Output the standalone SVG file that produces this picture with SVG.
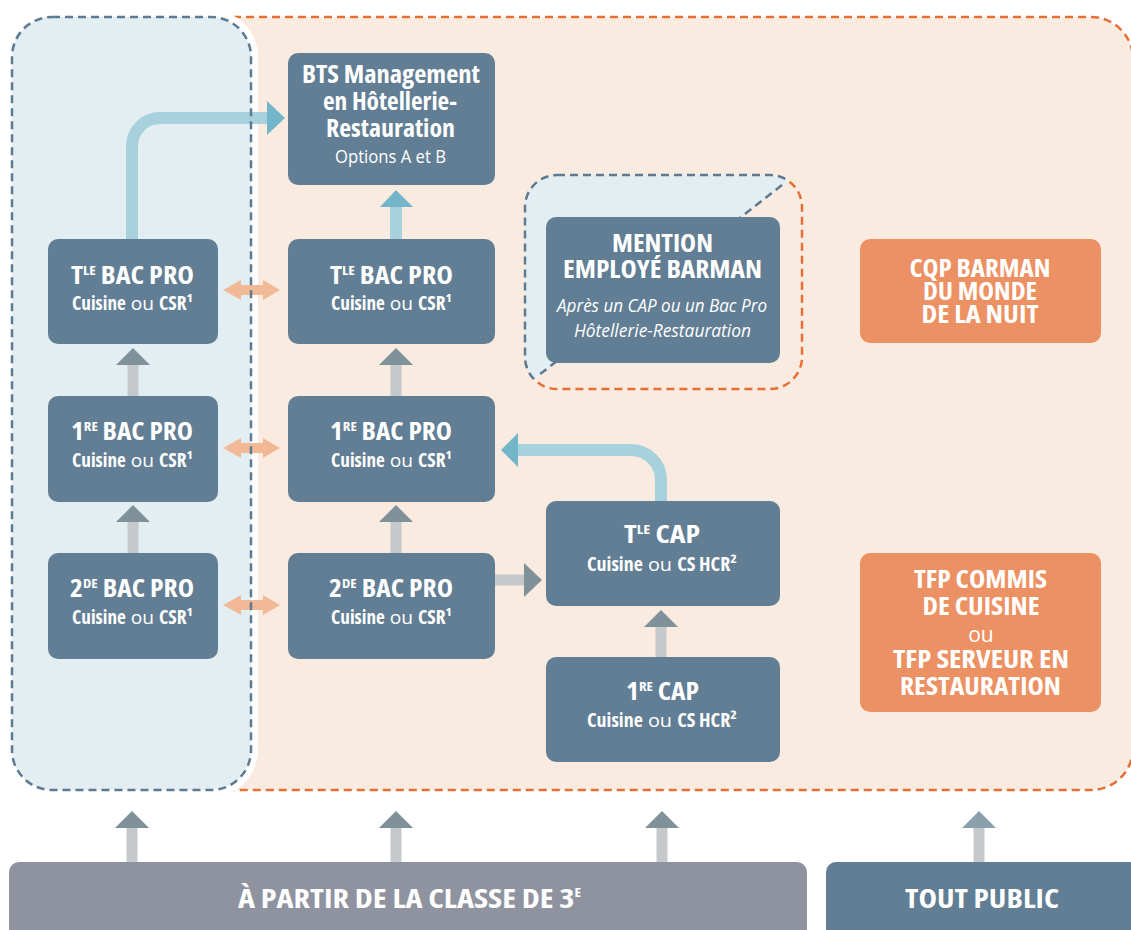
<svg xmlns="http://www.w3.org/2000/svg" width="1131" height="930" viewBox="0 0 1131 930">
<style>
text{font-family:"Open Sans","Liberation Sans",sans-serif;font-stretch:75%;fill:#ffffff;text-anchor:middle}
.t{font-size:24px;font-weight:700}
.s{font-size:19px;font-weight:400;font-stretch:100%}
.b{font-weight:700;font-stretch:75%}
.sup{font-size:13px;font-weight:700}
.it{font-size:17.5px;font-style:italic;font-weight:400;font-stretch:100%}
.op{font-size:17.5px;font-weight:400;font-stretch:100%}
.ou{font-size:21px;font-weight:400;font-stretch:100%}
.big{font-size:27.5px;font-weight:700}
.node{fill:#617e94}
.onode{fill:#ec9163}
.gshaft{fill:#c5c9cc}
.ghead{fill:#7f9299}
.bshaft{fill:none;stroke:#a8d1de;stroke-width:12}
.bshaftr{fill:#a8d1de}
.bhead{fill:#74b5c9}
.dbl{fill:#f2b996}
.odash{fill:none;stroke:#e66f35;stroke-width:2.5;stroke-dasharray:8 5}
.bdash{fill:none;stroke:#5d7a90;stroke-width:2.5;stroke-dasharray:8 5}
</style>
<defs>
<clipPath id="cu"><polygon points="490,140 840,140 840,140.3 490,414"/></clipPath>
<clipPath id="cl"><polygon points="490,414 840,140.3 840,420 490,420"/></clipPath>
</defs>
<g id="regions">
<rect x="100" y="17" width="1033" height="773" rx="42" fill="#faebe0"/>
<rect class="odash" x="100" y="17" width="1033" height="773" rx="42"/>
<rect x="5" y="10" width="253" height="787" rx="47" fill="#ffffff"/>
<rect x="12" y="17" width="239" height="773" rx="40" fill="#e3eef3"/>
<g clip-path="url(#cu)"><rect x="525" y="175" width="277" height="214" rx="32" fill="#e3eef3"/><rect class="bdash" x="525" y="175" width="277" height="214" rx="32"/></g>
<g clip-path="url(#cl)"><rect class="odash" x="525" y="175" width="277" height="214" rx="32"/></g>
<line class="bdash" x1="782" y1="185" x2="539" y2="375"/>
</g>
<g id="connectors">
<path class="bshaft" d="M132,239 V146 A28,28 0 0 1 160,118 H268"/>
<polygon class="bhead" points="267,101 285,118 267,135"/>
<rect class="bshaftr" x="390" y="206" width="12" height="34"/>
<polygon class="bhead" points="380,207 396,190 413,207"/>
<path class="bshaft" d="M661,501 V480 A30,30 0 0 0 631,450 H516"/>
<polygon class="bhead" points="518,433 501,450 518,467"/>
<rect class="gshaft" x="127.5" y="364" width="11" height="33"/>
<polygon class="ghead" points="116,365 133,348 150,365"/>
<rect class="gshaft" x="127.5" y="521" width="11" height="33"/>
<polygon class="ghead" points="116,522 133,505 150,522"/>
<rect class="gshaft" x="390.5" y="364" width="11" height="33"/>
<polygon class="ghead" points="379,365 396,348 413,365"/>
<rect class="gshaft" x="390.5" y="521" width="11" height="33"/>
<polygon class="ghead" points="379,522 396,505 413,522"/>
<rect class="gshaft" x="655.5" y="626" width="11" height="32"/>
<polygon class="ghead" points="644,627 661,610 678,627"/>
<rect class="gshaft" x="494" y="574.5" width="31" height="11"/>
<polygon class="ghead" points="524,563 542,580 524,597"/>
<polygon class="dbl" points="223,290 241,280 241,285 263,285 263,280 280,290 263,300 263,295 241,295 241,300"/>
<polygon class="dbl" points="223,448 241,438 241,443 263,443 263,438 280,448 263,458 263,453 241,453 241,458"/>
<polygon class="dbl" points="223,605 241,595 241,600 263,600 263,595 280,605 263,615 263,610 241,610 241,615"/>
<rect class="gshaft" x="126.5" y="827" width="11" height="36"/>
<polygon class="ghead" points="115,828 132,811 149,828"/>
<rect class="gshaft" x="390.5" y="827" width="11" height="36"/>
<polygon class="ghead" points="379,828 396,811 413,828"/>
<rect class="gshaft" x="656.5" y="827" width="11" height="36"/>
<polygon class="ghead" points="645,828 662,811 679,828"/>
<rect class="gshaft" x="973.5" y="827" width="11" height="36"/>
<polygon points="962,828 979,811 996,828" fill="#8aa0ad"/>
</g>
<rect class="bdash" x="12" y="17" width="239" height="773" rx="40"/>
<g id="bts">
<rect class="node" x="288" y="53" width="207" height="132" rx="10"/>
<text class="t" x="391" y="83" textLength="178" lengthAdjust="spacingAndGlyphs">BTS Management</text>
<text class="t" x="390" y="110" textLength="134" lengthAdjust="spacingAndGlyphs">en Hôtellerie-</text>
<text class="t" x="390.5" y="137" textLength="129" lengthAdjust="spacingAndGlyphs">Restauration</text>
<text class="op" x="390.5" y="163" textLength="111" lengthAdjust="spacingAndGlyphs">Options A et B</text>
</g>
<g id="tbac-l">
<rect class="node" x="48" y="239" width="170" height="105" rx="10"/>
<text class="t" x="132.5" y="284" textLength="123" lengthAdjust="spacingAndGlyphs">T<tspan class="sup" dy="-9">LE</tspan><tspan dy="9"> BAC PRO</tspan></text>
<text class="s" x="132.5" y="310" textLength="121" lengthAdjust="spacingAndGlyphs"><tspan class="b">Cuisine</tspan> ou <tspan class="b">CSR¹</tspan></text>
</g>
<g id="tbac-r">
<rect class="node" x="288" y="239" width="207" height="105" rx="10"/>
<text class="t" x="391.5" y="284" textLength="123" lengthAdjust="spacingAndGlyphs">T<tspan class="sup" dy="-9">LE</tspan><tspan dy="9"> BAC PRO</tspan></text>
<text class="s" x="391.5" y="310" textLength="121" lengthAdjust="spacingAndGlyphs"><tspan class="b">Cuisine</tspan> ou <tspan class="b">CSR¹</tspan></text>
</g>
<g id="1bac-l">
<rect class="node" x="48" y="396" width="170" height="106" rx="10"/>
<text class="t" x="132" y="440" textLength="122" lengthAdjust="spacingAndGlyphs">1<tspan class="sup" dy="-9">RE</tspan><tspan dy="9"> BAC PRO</tspan></text>
<text class="s" x="132.5" y="467" textLength="121" lengthAdjust="spacingAndGlyphs"><tspan class="b">Cuisine</tspan> ou <tspan class="b">CSR¹</tspan></text>
</g>
<g id="1bac-r">
<rect class="node" x="288" y="396" width="207" height="106" rx="10"/>
<text class="t" x="391" y="440" textLength="122" lengthAdjust="spacingAndGlyphs">1<tspan class="sup" dy="-9">RE</tspan><tspan dy="9"> BAC PRO</tspan></text>
<text class="s" x="391.5" y="467" textLength="121" lengthAdjust="spacingAndGlyphs"><tspan class="b">Cuisine</tspan> ou <tspan class="b">CSR¹</tspan></text>
</g>
<g id="2bac-l">
<rect class="node" x="48" y="553" width="170" height="106" rx="10"/>
<text class="t" x="132" y="597" textLength="124" lengthAdjust="spacingAndGlyphs">2<tspan class="sup" dy="-9">DE</tspan><tspan dy="9"> BAC PRO</tspan></text>
<text class="s" x="132.5" y="624" textLength="121" lengthAdjust="spacingAndGlyphs"><tspan class="b">Cuisine</tspan> ou <tspan class="b">CSR¹</tspan></text>
</g>
<g id="2bac-r">
<rect class="node" x="288" y="553" width="207" height="106" rx="10"/>
<text class="t" x="391" y="597" textLength="124" lengthAdjust="spacingAndGlyphs">2<tspan class="sup" dy="-9">DE</tspan><tspan dy="9"> BAC PRO</tspan></text>
<text class="s" x="391.5" y="624" textLength="121" lengthAdjust="spacingAndGlyphs"><tspan class="b">Cuisine</tspan> ou <tspan class="b">CSR¹</tspan></text>
</g>
<g id="mention">
<rect class="node" x="546" y="217" width="234" height="146" rx="10"/>
<text class="t" x="662.5" y="252" textLength="101" lengthAdjust="spacingAndGlyphs">MENTION</text>
<text class="t" x="662.5" y="278" textLength="199" lengthAdjust="spacingAndGlyphs">EMPLOYÉ BARMAN</text>
<text class="it" x="662" y="312" textLength="210" lengthAdjust="spacingAndGlyphs">Après un CAP ou un Bac Pro</text>
<text class="it" x="662.5" y="337" textLength="177" lengthAdjust="spacingAndGlyphs">Hôtellerie-Restauration</text>
</g>
<g id="tcap">
<rect class="node" x="546" y="501" width="234" height="105" rx="10"/>
<text class="t" x="662" y="543" textLength="76" lengthAdjust="spacingAndGlyphs">T<tspan class="sup" dy="-9">LE</tspan><tspan dy="9"> CAP</tspan></text>
<text class="s" x="662" y="571" textLength="150" lengthAdjust="spacingAndGlyphs"><tspan class="b">Cuisine</tspan> ou <tspan class="b">CS HCR²</tspan></text>
</g>
<g id="1cap">
<rect class="node" x="546" y="657" width="234" height="105" rx="10"/>
<text class="t" x="662.5" y="700" textLength="73" lengthAdjust="spacingAndGlyphs">1<tspan class="sup" dy="-9">RE</tspan><tspan dy="9"> CAP</tspan></text>
<text class="s" x="662" y="727" textLength="150" lengthAdjust="spacingAndGlyphs"><tspan class="b">Cuisine</tspan> ou <tspan class="b">CS HCR²</tspan></text>
</g>
<g id="cqp">
<rect class="onode" x="860" y="239" width="241" height="104" rx="10"/>
<text class="t" x="980" y="277" textLength="141" lengthAdjust="spacingAndGlyphs">CQP BARMAN</text>
<text class="t" x="980" y="300" textLength="114" lengthAdjust="spacingAndGlyphs">DU MONDE</text>
<text class="t" x="980" y="323" textLength="117" lengthAdjust="spacingAndGlyphs">DE LA NUIT</text>
</g>
<g id="tfp">
<rect class="onode" x="860" y="553" width="241" height="159" rx="10"/>
<text class="t" x="980.5" y="588" textLength="133" lengthAdjust="spacingAndGlyphs">TFP COMMIS</text>
<text class="t" x="981" y="615" textLength="117" lengthAdjust="spacingAndGlyphs">DE CUISINE</text>
<text class="ou" x="981" y="642">ou</text>
<text class="t" x="981" y="668" textLength="176" lengthAdjust="spacingAndGlyphs">TFP SERVEUR EN</text>
<text class="t" x="980.5" y="695" textLength="161" lengthAdjust="spacingAndGlyphs">RESTAURATION</text>
</g>
<g id="classe3">
<rect x="9" y="862" width="798" height="90" rx="10" fill="#8f939f"/>
<text class="big" x="409.5" y="908" textLength="343" lengthAdjust="spacingAndGlyphs">À PARTIR DE LA CLASSE DE 3<tspan class="sup" dy="-11">E</tspan></text>
</g>
<g id="toutpublic">
<rect x="826" y="862" width="330" height="90" rx="10" fill="#617e94"/>
<text class="big" x="982" y="908" textLength="154" lengthAdjust="spacingAndGlyphs">TOUT PUBLIC</text>
</g>
</svg>
